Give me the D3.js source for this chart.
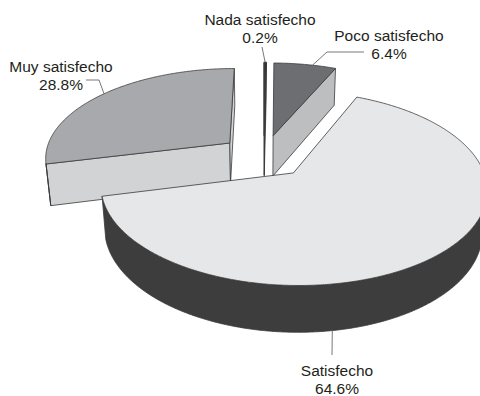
<!DOCTYPE html>
<html><head><meta charset="utf-8">
<script src="https://cdn.jsdelivr.net/npm/d3@7"></script>
<style>body{margin:0;background:#fff}svg{display:block}</style>
</head><body>
<svg id="chart" width="480" height="396"></svg>
<script>
// ---- data ----
const categories = ["Nada satisfecho", "Poco satisfecho", "Satisfecho", "Muy satisfecho"];
const values = [0.2, 6.4, 64.6, 28.8];
const percentLabels = ["0.2%", "6.4%", "64.6%", "28.8%"];

// ---- styles ----
const topColor = d3.scaleOrdinal(categories, ["#1f1f1f", "#6d6e71", "#e6e7e8", "#a7a9ac"]);
const radialColor = d3.scaleOrdinal(categories, ["#2e2e2e", "#bcbec0", "#c8c9cb", "#d1d3d4"]);
const curveColor = d3.scaleOrdinal(categories, ["#2e2e2e", "#58595b", "#3d3d3d", "#8c8d90"]);

// ---- 3D perspective camera ----
const cam = {cx: 264, cy: 156, f: 1060, D: 5.72, alpha: 28.9 * Math.PI / 180};
const thick = 0.26, explode = 0.24;
const rScale = d3.scaleLinear().domain([0, 1]).range([0, 1]);
const ca = Math.cos(cam.alpha), sa = Math.sin(cam.alpha);
const camPos = [0, cam.D * sa, cam.D * ca];
function proj([X, Y, Z]) {
  const u = Y * ca - Z * sa;
  const w = cam.D - Z * ca - Y * sa;
  return [cam.cx + cam.f * X / w, cam.cy - cam.f * u / w];
}

const svg = d3.select("#chart");
const pie = d3.pie().sort(null).value(d => d.value).startAngle(0).endAngle(2 * Math.PI);
const data = categories.map((c, i) => ({cat: c, value: values[i], label: percentLabels[i]}));
const arcs = pie(data);
arcs.forEach(a => {
  a.mid = (a.startAngle + a.endAngle) / 2;
  a.off = [explode * Math.sin(a.mid), 0, -explode * Math.cos(a.mid)];
});
function pt(a, r, th, y) {
  const rr = rScale(r);
  return [a.off[0] + rr * Math.sin(th), y, a.off[2] - rr * Math.cos(th)];
}
function visible(n, p) {
  return n[0] * (camPos[0] - p[0]) + n[1] * (camPos[1] - p[1]) + n[2] * (camPos[2] - p[2]) > 0;
}
const line = d3.line();
const strokeCol = "#3a3a3a";

const order = arcs.slice().sort((p, q) => p.off[2] - q.off[2]);
order.forEach(a => {
  const g = svg.append("g");
  const span = a.endAngle - a.startAngle;
  const steps = Math.max(2, Math.ceil(span / (Math.PI / 360)));
  const ths = d3.range(steps + 1).map(i => a.startAngle + span * i / steps);
  const faces = [];
  const n1 = [-Math.cos(a.startAngle), 0, -Math.sin(a.startAngle)];
  if (visible(n1, a.off)) {
    faces.push({pts: [pt(a, 0, 0, 0), pt(a, 1, a.startAngle, 0), pt(a, 1, a.startAngle, -thick), pt(a, 0, 0, -thick)], fill: radialColor(a.data.cat)});
  }
  const n2 = [Math.cos(a.endAngle), 0, Math.sin(a.endAngle)];
  if (visible(n2, a.off)) {
    faces.push({pts: [pt(a, 0, 0, 0), pt(a, 1, a.endAngle, 0), pt(a, 1, a.endAngle, -thick), pt(a, 0, 0, -thick)], fill: radialColor(a.data.cat)});
  }
  let run = [];
  const flush = () => {
    if (run.length > 1) {
      const topPts = run.map(t => pt(a, 1, t, 0));
      const botPts = run.map(t => pt(a, 1, t, -thick)).reverse();
      faces.push({pts: topPts.concat(botPts), fill: curveColor(a.data.cat)});
    }
    run = [];
  };
  for (let i = 0; i < ths.length - 1; i++) {
    const tm = (ths[i] + ths[i + 1]) / 2;
    const n = [Math.sin(tm), 0, -Math.cos(tm)];
    if (visible(n, pt(a, 1, tm, 0))) {
      if (run.length === 0) run.push(ths[i]);
      run.push(ths[i + 1]);
    } else flush();
  }
  flush();
  faces.forEach(fc => {
    g.append("path").attr("d", line(fc.pts.map(proj)) + "Z")
      .attr("fill", fc.fill).attr("stroke", strokeCol).attr("stroke-width", 0.8).attr("stroke-linejoin", "round");
  });
  const topPts = [pt(a, 0, 0, 0)].concat(ths.map(t => pt(a, 1, t, 0)));
  g.append("path").attr("d", line(topPts.map(proj)) + "Z")
    .attr("fill", topColor(a.data.cat)).attr("stroke", strokeCol)
    .attr("stroke-width", a.data.value < 1 ? 1.6 : 0.8).attr("stroke-linejoin", "round");
});

// ---- labels ----
const labelLayout = {
  "Nada satisfecho": {x: 260, y: 25, angle: null, onSide: false, elbows: [[262, 47]]},
  "Poco satisfecho": {x: 389, y: 41, angle: 15, onSide: false, elbows: [[327, 52], [364, 52]]},
  "Satisfecho": {x: 337, y: 376, angle: 171, onSide: true, elbows: [[332, 355]]},
  "Muy satisfecho": {x: 61, y: 72, angle: 309, onSide: false, elbows: [[99, 80], [86, 80]]}
};
arcs.forEach(a => {
  const L = labelLayout[a.data.cat];
  const th = L.angle === null ? a.mid : L.angle * Math.PI / 180;
  const anchor = proj(pt(a, 1, th, L.onSide ? -thick : 0));
  svg.append("path").attr("d", line([anchor].concat(L.elbows)))
    .attr("fill", "none").attr("stroke", "#555").attr("stroke-width", 0.8);
  const t = svg.append("text").attr("x", L.x).attr("y", L.y).attr("text-anchor", "middle")
    .attr("font-family", "'Liberation Sans', Arial, sans-serif").attr("font-size", 15.5).attr("fill", "#231f20");
  t.append("tspan").attr("x", L.x).attr("dy", 0).text(a.data.cat);
  t.append("tspan").attr("x", L.x).attr("dy", 17.5).text(a.data.label);
});
</script>
</body></html>
